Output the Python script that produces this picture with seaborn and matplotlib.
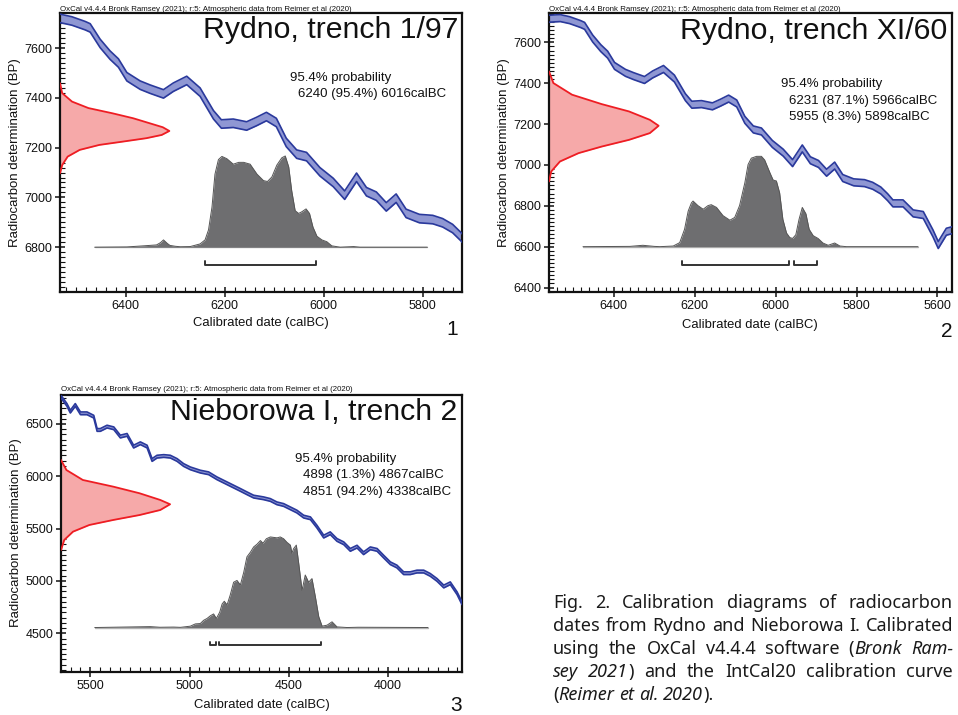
import numpy as np
import matplotlib
matplotlib.use("Agg")
import matplotlib.pyplot as plt
from matplotlib.ticker import MultipleLocator
import seaborn as sns

W, H = 958, 715

# IntCal20 as drawn in panels 1 and 2 (calBC -> BP), band half width in BP
curve_bc = [6560, 6532, 6509, 6482, 6472, 6452, 6432, 6415, 6398, 6371, 6351, 6324,
            6304, 6277, 6250, 6223, 6207, 6183, 6156, 6136, 6116, 6096, 6076, 6055,
            6035, 6008, 5981, 5958, 5934, 5914, 5894, 5874, 5854, 5834, 5807, 5780,
            5760, 5740, 5723, 5710, 5685, 5660, 5635, 5611, 5598, 5578, 5563]
curve_bp = [7716, 7719, 7709, 7690, 7681, 7619, 7572, 7540, 7485, 7451, 7435, 7416,
            7443, 7470, 7423, 7332, 7295, 7298, 7287, 7305, 7325, 7301, 7221, 7174,
            7164, 7103, 7060, 7009, 7081, 7023, 7005, 6962, 6997, 6936, 6915, 6911,
            6898, 6875, 6842, 6812, 6812, 6763, 6755, 6665, 6608, 6673, 6681]
curve_err = 17

# IntCal20 as drawn in panel 3
curve3_bc = [5648, 5618, 5601, 5576, 5550, 5517, 5483, 5466, 5450, 5416, 5382, 5349,
             5315, 5282, 5248, 5214, 5189, 5164, 5130, 5097, 5063, 5030, 4996, 4946,
             4904, 4862, 4828, 4778, 4744, 4711, 4677, 4627, 4593, 4560, 4526, 4492,
             4459, 4425, 4391, 4358, 4324, 4291, 4257, 4223, 4190, 4156, 4123, 4089,
             4055, 4022, 3988, 3955, 3921, 3888, 3854, 3820, 3787, 3753, 3719, 3686,
             3652, 3627]
curve3_bp = [6761, 6682, 6618, 6682, 6602, 6602, 6570, 6443, 6443, 6475, 6459, 6380,
             6396, 6284, 6316, 6284, 6156, 6188, 6194, 6188, 6156, 6108, 6076, 6045,
             6029, 5981, 5949, 5902, 5870, 5838, 5806, 5790, 5774, 5742, 5726, 5694,
             5663, 5615, 5599, 5519, 5424, 5456, 5392, 5360, 5297, 5328, 5265, 5312,
             5297, 5233, 5169, 5138, 5074, 5074, 5090, 5090, 5058, 5010, 4947, 4978,
             4883, 4787]
curve3_err = 13

# radiocarbon dates (red), relative probability against BP
date1_bp = [7459, 7419, 7385, 7359, 7338, 7318, 7298, 7282, 7267, 7251, 7238, 7224,
            7211, 7191, 7164, 7130, 7097]
date1_p = [0, .02, .11, .26, .48, .67, .82, .94, 1, .93, .79, .57, .36, .18, .07, .02, 0]
date2_bp = [7458, 7401, 7344, 7298, 7262, 7221, 7192, 7156, 7123, 7090, 7058, 7017,
            6968, 6919]
date2_p = [0, .04, .21, .48, .73, .92, 1, .92, .73, .48, .27, .10, .02, 0]
date3_bp = [6156, 6060, 5965, 5901, 5838, 5774, 5733, 5678, 5630, 5583, 5535, 5471,
            5392, 5296]
date3_p = [0, .05, .20, .48, .72, .91, 1, .91, .72, .48, .26, .11, .03, 0]

# calibrated distributions (grey), relative probability against calBC
cal1_bc = [6463, 6398, 6364, 6338, 6330, 6324, 6316, 6311, 6300, 6290, 6270, 6250,
           6240, 6233, 6226, 6220, 6213, 6206, 6196, 6183, 6172, 6162, 6149, 6135,
           6122, 6114, 6105, 6095, 6085, 6078, 6071, 6065, 6058, 6051, 6044, 6036,
           6029, 6022, 6014, 6004, 5994, 5984, 5967, 5940, 5927, 5791]
cal1_p = [0, .003, .015, .025, .05, .08, .04, .02, .01, .005, .007, .036,
          .08, .19, .44, .80, .96, .995, .97, .91, .93, .93, .91, .80,
          .73, .72, .77, .90, .98, 1.0, .88, .62, .40, .37, .39, .42,
          .37, .22, .12, .08, .06, .015, 0, .007, 0, 0]
cal2_bc = [6476, 6360, 6328, 6300, 6286, 6253, 6237, 6225, 6216, 6208, 6204, 6192,
           6179, 6167, 6159, 6146, 6130, 6113, 6101, 6089, 6076, 6068, 6060, 6047,
           6035, 6027, 6014, 6006, 5998, 5990, 5982, 5973, 5965, 5958, 5950, 5942,
           5934, 5925, 5917, 5907, 5895, 5883, 5870, 5854, 5841, 5825, 5648]
cal2_p = [0, .003, .015, .003, 0, .007, .044, .19, .39, .48, .50, .45,
          .41, .45, .46, .43, .34, .29, .32, .45, .70, .90, .97, .99,
          .99, .95, .81, .73, .72, .59, .30, .15, .10, .09, .13, .30,
          .43, .36, .19, .12, .09, .04, .015, .04, .007, 0, 0]
cal3_bc = [5478, 5198, 5150, 5080, 5046, 4996, 4971, 4946, 4929, 4912, 4895, 4879,
           4865, 4848, 4836, 4825, 4811, 4795, 4778, 4761, 4744, 4727, 4711, 4694,
           4677, 4660, 4643, 4630, 4613, 4593, 4559, 4543, 4526, 4509, 4492, 4484,
           4476, 4462, 4450, 4433, 4417, 4400, 4383, 4366, 4349, 4332, 4307, 4282,
           4257, 4206, 4150, 3798]
cal3_p = [0, .01, .003, .005, .002, .015, .04, .044, .08, .10, .13, .15,
          .10, .17, .26, .29, .25, .36, .50, .52, .47, .61, .78, .83,
          .89, .92, .96, .93, .98, 1.0, .99, 1.0, .98, .94, .91, .82,
          .87, .91, .71, .41, .58, .50, .54, .34, .12, .015, .026, .063,
          .007, 0, .003, 0]

# 95.4% ranges (calBC)
ranges1 = [(6240, 6016)]
ranges2 = [(6231, 5966), (5955, 5898)]
ranges3 = [(4898, 4867), (4851, 4338)]

titles = ["Rydno, trench 1/97", "Rydno, trench XI/60", "Nieborowa I, trench 2"]
prob_lines = [["6240 (95.4%) 6016calBC"],
              ["6231 (87.1%) 5966calBC", "5955 (8.3%) 5898calBC"],
              ["4898 (1.3%) 4867calBC", "4851 (94.2%) 4338calBC"]]
credit = "OxCal v4.4.4 Bronk Ramsey (2021); r:5: Atmospheric data from Reimer et al (2020)"

caption = [
    "Fig. 2. Calibration diagrams of radiocarbon",
    "dates from Rydno and Nieborowa I. Calibrated",
    "using the OxCal v4.4.4 software (_Bronk Ram-_",
    "_sey 2021_) and the IntCal20 calibration curve",
    "(_Reimer et al. 2020_).",
]

BAND_FILL = "#8f97d3"
BAND_EDGE = "#2a399c"
RED_FILL = "#f6a9a9"
RED_EDGE = "#ee1d23"
GREY_FILL = "#6e6e70"

sns.set_style("ticks")
plt.rcParams["font.family"] = ["Liberation Sans", "DejaVu Sans"]

fig = plt.figure(figsize=(W / 100, H / 100), dpi=100)


def put(x, y, s, **kw):
    # place text by pixel position (from top-left)
    kw.setdefault("va", "baseline")
    kw.setdefault("color", "#111111")
    return fig.text(x / W, 1 - y / H, s, **kw)


def panel(box, xlim, ylim, xstep, ystep, c_bc, c_bp, c_err, d_bp, d_p,
          k_bc, k_p, base, ranges):
    l, t, r, b = box
    ax = fig.add_axes([l / W, 1 - b / H, (r - l) / W, (b - t) / H])
    xspan = xlim[0] - xlim[1]
    yspan = ylim[1] - ylim[0]

    # calibration curve band
    c_bc = np.array(c_bc)
    up = np.array(c_bp) + c_err
    lo = np.array(c_bp) - c_err
    ax.fill_between(c_bc, lo, up, color=BAND_FILL, lw=0, zorder=2)
    for edge in (up, lo):
        sns.lineplot(x=c_bc, y=edge, ax=ax, color=BAND_EDGE, linewidth=1.2,
                     estimator=None, sort=False, zorder=3)

    # measured date hanging off the y axis
    rx = xlim[0] - np.array(d_p) * 0.272 * xspan
    ax.fill_betweenx(d_bp, xlim[0], rx, color=RED_FILL, lw=0, zorder=2)
    sns.lineplot(x=rx, y=d_bp, ax=ax, color=RED_EDGE, linewidth=1.3,
                 estimator=None, sort=False, zorder=3)

    # calibrated distribution
    gy = base + np.array(k_p) * 0.327 * yspan
    ax.plot([k_bc[0], k_bc[-1]], [base, base], color="#b4b4b4", lw=1.0, zorder=2)
    ax.fill_between(k_bc, base, gy, color=GREY_FILL, lw=0, zorder=2)
    sns.lineplot(x=k_bc, y=gy, ax=ax, color="#555555", linewidth=0.7,
                 estimator=None, sort=False, zorder=3)

    # range brackets
    yb = ylim[0] + 0.096 * yspan
    tk = 0.014 * yspan
    for a, c in ranges:
        ax.plot([a, a, c, c], [yb + tk, yb, yb, yb + tk], color="#333333",
                lw=1.4, zorder=3)

    ax.set_xlim(xlim)
    ax.set_ylim(ylim)
    ax.xaxis.set_major_locator(MultipleLocator(xstep))
    ax.xaxis.set_minor_locator(MultipleLocator(xstep / 10))
    ax.yaxis.set_major_locator(MultipleLocator(ystep))
    ax.yaxis.set_minor_locator(MultipleLocator(ystep / 10))
    ax.tick_params(which="major", direction="inout", length=7, width=1.1,
                   labelsize=9, pad=2, colors="#111111")
    ax.tick_params(which="minor", direction="in", length=3.5, width=0.8,
                   colors="#111111")
    for sp in ax.spines.values():
        sp.set_linewidth(1.6)
        sp.set_color("#111111")
    ax.set_xlabel("")
    ax.set_ylabel("")
    return ax


panel((60, 13, 462, 292), (6533, 5721), (6620, 7741), 200, 200,
      curve_bc, curve_bp, curve_err, date1_bp, date1_p, cal1_bc, cal1_p, 6800, ranges1)
panel((549, 13, 952, 292), (6560, 5564), (6378, 7744), 200, 200,
      curve_bc, curve_bp, curve_err, date2_bp, date2_p, cal2_bc, cal2_p, 6600, ranges2)
panel((61, 395, 462, 672), (5648, 3627), (4130, 6777), 500, 500,
      curve3_bc, curve3_bp, curve3_err, date3_bp, date3_p, cal3_bc, cal3_p, 4555, ranges3)

# panel texts: (left, top offset, title right, prob x, prob y, xlabel y, number y)
layout = [(60, 0, 458, 290, 81.0, 326, 335),
          (549, 0, 947, 781, 87.3, 328, 337),
          (61, 380, 457, 295, 461.7, 708, 711)]
for i, (l, dy, tr, prx, pry, xly, ny) in enumerate(layout):
    put(l, 11 + dy, credit, fontsize=5.65)
    put(tr, [37.7, 39, 420][i], titles[i], fontsize=21.8, ha="right")
    put(prx, pry, "95.4% probability", fontsize=9.5)
    for j, s in enumerate(prob_lines[i]):
        put(prx + 8, pry + 16.4 * (j + 1), s, fontsize=9.5)
    put(l - 45, 152.5 + dy, "Radiocarbon determination (BP)", fontsize=9.5,
        rotation=90, ha="center", va="center")
    put(l + 201, xly, "Calibrated date (calBC)", fontsize=9.4, ha="center")
    put([458, 952, 462][i], ny, str(i + 1), fontsize=15, ha="right")

# justified caption
renderer = fig.canvas.get_renderer()
cap_left, cap_right = 553, 953
cap_font = dict(fontsize=13, family=["Noto Sans", "DejaVu Sans"], color="#1a1a1a")
for n, line in enumerate(caption):
    y = 608 + 22.9 * n
    ital = False
    words = []
    for w in line.split(" "):
        segs = []
        for k, part in enumerate(w.split("_")):
            if k > 0:
                ital = not ital
            if part:
                t = put(0, y, part, style="italic" if ital else "normal", **cap_font)
                segs.append((t, t.get_window_extent(renderer).width))
        words.append(segs)
    widths = [sum(wd for _, wd in segs) for segs in words]
    if n < len(caption) - 1:
        gap = (cap_right - cap_left - sum(widths)) / (len(words) - 1)
    else:
        gap = 4.8
    x = cap_left
    for segs, wsum in zip(words, widths):
        for t, wd in segs:
            t.set_position((x / W, 1 - y / H))
            x += wd
        x += gap

fig.savefig("out.png", dpi=100)
